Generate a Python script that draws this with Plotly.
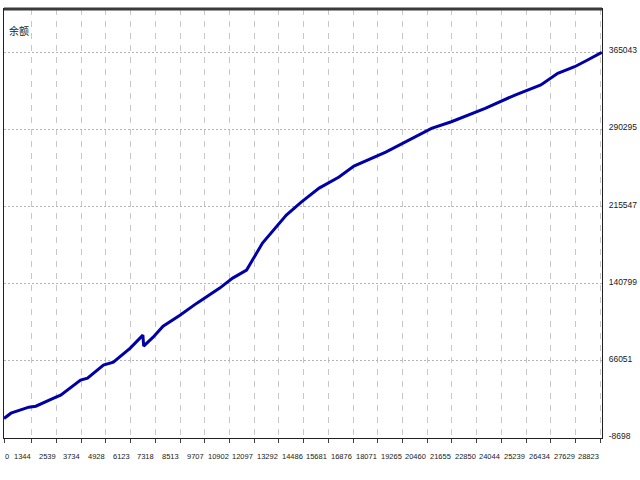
import plotly.graph_objects as go

# balance curve (trade number vs balance)
trades = [0, 336, 1202, 1538, 2403, 2739, 3701, 4037, 4806, 5287, 6104,
          6714, 6753, 7209, 7690, 8507, 9324, 10429, 11054, 11727, 12496,
          13649, 14370, 15235, 16196, 16917, 18455, 19560, 20666, 21627,
          23261, 24703, 25952, 26770, 27587, 28212, 28900]
balance = [10206, 15344, 21161, 22131, 29887, 32796, 47338, 49277, 61883,
           64791, 78362, 90965, 80301, 89026, 99691, 110355, 121990,
           136532, 146227, 153983, 180159, 207305, 219909, 233482, 244147,
           254811, 268384, 280018, 291361, 297760, 310752, 323646, 333341,
           344683, 351082, 357578, 365043]

x_ticks = [0, 1344, 2539, 3734, 4928, 6123, 7318, 8513, 9707, 10902, 12097,
           13292, 14486, 15681, 16876, 18071, 19265, 20460, 21655, 22850,
           24044, 25239, 26434, 27629, 28823]
y_ticks = [-8698, 66051, 140799, 215547, 290295, 365043]

LABEL_FONT = "Liberation Sans, Roboto, sans-serif"

fig = go.Figure()
fig.add_trace(go.Scatter(x=trades, y=balance, mode="lines",
                         line=dict(color="#0000a8", width=3),
                         hoverinfo="skip"))

fig.update_layout(
    width=640, height=480,
    margin=dict(l=3, r=35, t=9, b=42),
    paper_bgcolor="white", plot_bgcolor="white",
    showlegend=False,
    font=dict(family=LABEL_FONT, size=8, color="#202020"),
)

fig.update_xaxes(range=[0, 28909], tickvals=x_ticks, showticklabels=False,
                 ticks="outside", ticklen=4, tickcolor="#404040",
                 showgrid=True, gridcolor="#c8c8c8", griddash="6px,6px",
                 gridwidth=1, zeroline=False,
                 showline=True, linecolor="#202020", linewidth=1, mirror=True)

fig.update_yaxes(range=[-8698, 407000], side="right", tickvals=y_ticks,
                 ticktext=[str(v) for v in y_ticks], ticks="",
                 ticklabelstandoff=4, ticklabelshift=-2,
                 tickfont=dict(family=LABEL_FONT, size=8.5, color="#202020"),
                 showgrid=True, gridcolor="#b4b4b4", griddash="2px,2px",
                 gridwidth=1, zeroline=False,
                 showline=True, linecolor="#202020", linewidth=1, mirror=True)

# thicker top frame like the tester window
fig.add_shape(type="line", xref="paper", yref="paper", x0=0, x1=1, y0=1, y1=1,
              line=dict(color="#3a3a3a", width=3))

# x labels sit to the left of their tick marks
for i, v in enumerate(x_ticks):
    fig.add_annotation(x=v, y=0, xref="x", yref="paper", text=str(v),
                       showarrow=False, xanchor="left" if i == 0 else "right",
                       yanchor="middle", yshift=-18, borderpad=0,
                       font=dict(family=LABEL_FONT, size=7.5, color="#202020"))

fig.add_annotation(x=0, y=1, xref="paper", yref="paper", text="余额",
                   showarrow=False, xanchor="left", yanchor="middle",
                   xshift=3, yshift=-21,
                   font=dict(family="Noto Sans CJK SC", size=10, color="#202020"))

# page has a default body margin, drop it so the chart fills the window
fig.write_html("out.html", config={"displayModeBar": False},
               post_script="document.body.style.margin='0';")
